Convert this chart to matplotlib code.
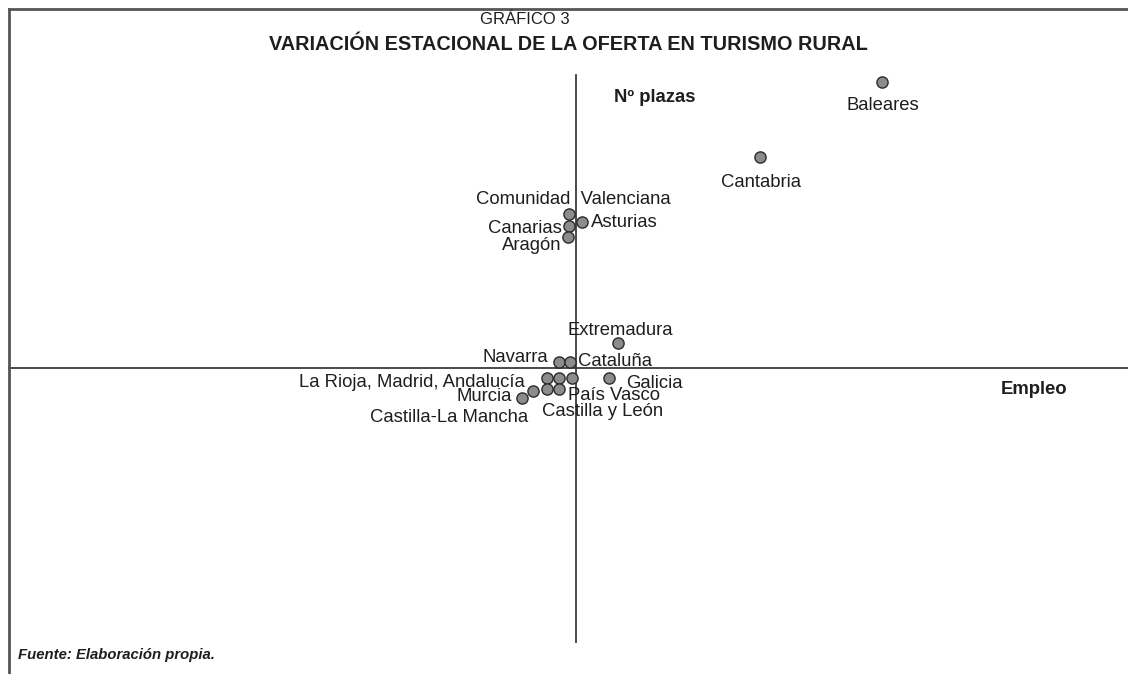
import matplotlib.pyplot as plt

plt.rcParams['font.family'] = ['Liberation Sans', 'DejaVu Sans']

# Datos (posiciones estandarizadas)
regiones = ['Baleares', 'Cantabria', 'Comunidad Valenciana', 'Canarias', 'Asturias',
            'Aragón', 'Extremadura', 'Navarra', 'Cataluña', 'La Rioja', 'Madrid',
            'Andalucía', 'Galicia', 'Murcia', 'País Vasco', 'Castilla y León',
            'Castilla-La Mancha']
empleo = [2.04, 1.227, -0.047, -0.047, 0.04, -0.053, 0.28, -0.113, -0.04, -0.193,
          -0.113, -0.027, 0.22, -0.287, -0.113, -0.193, -0.36]
plazas = [1.907, 1.407, 1.027, 0.947, 0.973, 0.873, 0.167, 0.04, 0.04, -0.067,
          -0.067, -0.067, -0.067, -0.153, -0.14, -0.14, -0.2]
etiquetas = ['Baleares', 'Cantabria', 'Comunidad  Valenciana', 'Canarias', 'Asturias',
             'Aragón', 'Extremadura', 'Navarra', 'Cataluña', 'La Rioja, Madrid, Andalucía',
             '', '', 'Galicia', 'Murcia', 'País Vasco', 'Castilla y León',
             'Castilla-La Mancha']

# desplazamiento de cada etiqueta (pixeles) y alineación
offsets = {
    'Baleares': (1, -24, 'center'),
    'Cantabria': (1, -26, 'center'),
    'Comunidad  Valenciana': (4, 14, 'center'),
    'Canarias': (-7, -3, 'right'),
    'Asturias': (9, 0, 'left'),
    'Aragón': (-7, -8, 'right'),
    'Extremadura': (2, 12, 'center'),
    'Navarra': (-11, 4, 'right'),
    'Cataluña': (8, 0, 'left'),
    'La Rioja, Madrid, Andalucía': (-22, -4, 'right'),
    'Galicia': (17, -5, 'left'),
    'Murcia': (-21, -6, 'right'),
    'País Vasco': (9, -7, 'left'),
    'Castilla y León': (-5, -23, 'left'),
    'Castilla-La Mancha': (6, -20, 'right'),
}

W, H = 1128, 674
fig = plt.figure(figsize=(W / 100, H / 100), dpi=100)
ax = fig.add_axes([0, 0, 1, 1])
ax.set_xlim(-576 / 150, (W - 576) / 150)
ax.set_ylim((368 - H) / 150, 368 / 150)
ax.axis('off')

txt_col = '#1e1e1e'
line_col = '#3a3a3a'
ax.axhline(0, xmin=9 / W, xmax=1, color=line_col, lw=1.3)
ax.axvline(0, ymin=(H - 642) / H, ymax=(H - 75) / H, color=line_col, lw=1.3)

# marco
ax.plot([9 / W, 1], [1 - 9 / H, 1 - 9 / H], transform=ax.transAxes, color='#555555', lw=2)
ax.plot([9 / W, 9 / W], [0, 1 - 9 / H], transform=ax.transAxes, color='#555555', lw=2)

ax.scatter(empleo, plazas, s=65, color='#8c8c8c', edgecolors='#2b2b2b', linewidths=1, zorder=3)

for x, y, lab in zip(empleo, plazas, etiquetas):
    if not lab:
        continue
    dx, dy, ha = offsets[lab]
    ax.annotate(lab, (x, y), xytext=(dx, dy), textcoords='offset pixels',
                ha=ha, va='center', fontsize=13.3, color=txt_col)

fig.text(525 / W, 1 - 20 / H, 'GRÁFICO 3', ha='center', va='center', fontsize=12, color=txt_col)
fig.text(568 / W, 1 - 44 / H, 'VARIACIÓN ESTACIONAL DE LA OFERTA EN TURISMO RURAL',
         ha='center', va='center', fontsize=14.3, fontweight='bold', color=txt_col)
fig.text(655 / W, 1 - 98 / H, 'Nº plazas', ha='center', va='center', fontsize=13.3,
         fontweight='bold', color=txt_col)
fig.text(1034 / W, 1 - 390 / H, 'Empleo', ha='center', va='center', fontsize=13.3,
         fontweight='bold', color=txt_col)
fig.text(18 / W, 1 - 655 / H, 'Fuente: Elaboración propia.', ha='left', va='center',
         fontsize=10.7, fontweight='bold', fontstyle='italic', color=txt_col)

fig.savefig('out.png', dpi=100)
